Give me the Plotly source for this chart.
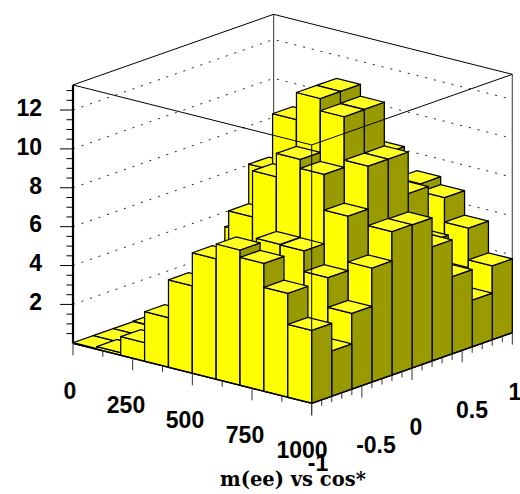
import numpy as np
import plotly.graph_objects as go

# ---- data: bin contents, one list per m(ee) bin, running over cos* bins from -1 to 1
mass_edges = [0, 100, 200, 300, 400, 500, 600, 700, 800, 900, 1000]
cos_edges = [-1, -0.8, -0.6, -0.4, -0.2, 0, 0.2, 0.4, 0.6, 0.8, 1]
m0 = [0.03, 0.03, 0.03, 0.05, 0.1, 0.1, 0.1, 0.05, 0.03, 0.03]
m1 = [0.14, 0.05, 0.1, 0.2, 0.3, 0.3, 0.3, 0.2, 0.1, 0.1]
m2 = [0.96, 0.7, 1.0, 1.5, 2.0, 2.0, 2.0, 1.8, 1.3, 1.0]
m3 = [2.55, 2.2, 3.0, 4.2, 5.47, 5.5, 4.5, 3.5, 3.0, 2.5]
m4 = [4.5, 3.8, 4.8, 6.96, 9.0, 8.5, 7.0, 5.5, 4.5, 4.0]
m5 = [6.2, 5.8, 5.2, 9.33, 11.9, 10.5, 9.5, 8.0, 6.0, 5.5]
m6 = [6.96, 5.5, 6.52, 10.53, 13.3, 13.3, 11.0, 8.5, 6.5, 7.1]
m7 = [6.58, 4.5, 6.5, 10.07, 12.67, 12.69, 10.04, 7.0, 4.7, 6.69]
m8 = [5.35, 2.9, 5.43, 8.23, 10.44, 10.44, 8.3, 5.44, 3.4, 5.43]
m9 = [3.75, 2.33, 3.9, 5.87, 7.38, 7.36, 5.87, 3.97, 2.4, 3.8]
heights = [m0, m1, m2, m3, m4, m5, m6, m7, m8, m9]

z_ticks = [2, 4, 6, 8, 10, 12]
z_labels = ["2", "4", "6", "8", "10", "12"]
mass_labels = ["0", "250", "500", "750", "1000"]
cos_labels = ["-1", "-0.5", "0", "0.5", "1"]
title = "m(ee) vs cos*"

# ---- oblique view of the box
ORIGIN = np.array([73.0, 343.3])
X_DIR = np.array([238.7, 60.0]) / 1000.0
Y_DIR = np.array([200.6, -70.6]) / 2.0
Z_UNIT = 19.44
Z_MAX = 13.29


def P(m, c, z=0.0):
    p = ORIGIN + X_DIR * m + Y_DIR * (c + 1) + np.array([0, -Z_UNIT]) * z
    return float(p[0]), float(p[1])


fig = go.Figure()


def line(pts, color="black", width=1.0, dash=None):
    xs, ys = zip(*pts)
    fig.add_trace(go.Scatter(x=xs, y=ys, mode="lines", hoverinfo="skip",
                             line=dict(color=color, width=width, dash=dash)))


def face(pts, color):
    xs, ys = zip(*(pts + [pts[0]]))
    fig.add_trace(go.Scatter(x=xs, y=ys, mode="lines", fill="toself", fillcolor=color,
                             hoverinfo="skip", line=dict(color="black", width=1.25)))


# back walls
GRID_DASH = "2px,7px"
for z in z_ticks:
    line([P(0, -1, z), P(0, 1, z), P(1000, 1, z)], "#222222", 1.0, GRID_DASH)
line([P(0, -1), P(0, 1), P(1000, 1)], "black", 1.0)
line([P(0, 1), P(0, 1, Z_MAX)], "#555555", 1.2)
line([P(1000, 1), P(1000, 1, Z_MAX)], "#555555", 1.2)
line([P(0, -1, Z_MAX), P(0, 1, Z_MAX), P(1000, 1, Z_MAX)], "black", 1.0)

# bars, back to front
YELLOW = "#ffff00"
TOP = "#ffff22"
OLIVE = "#999900"
for j in range(9, -1, -1):
    for i in range(10):
        h = heights[i][j]
        m_a, m_b = mass_edges[i], mass_edges[i + 1]
        c_a, c_b = cos_edges[j], cos_edges[j + 1]
        face([P(m_a, c_a), P(m_b, c_a), P(m_b, c_a, h), P(m_a, c_a, h)], YELLOW)
        face([P(m_b, c_a), P(m_b, c_b), P(m_b, c_b, h), P(m_b, c_a, h)], OLIVE)
        face([P(m_a, c_a, h), P(m_b, c_a, h), P(m_b, c_b, h), P(m_a, c_b, h)], TOP)

# front edges of the box
line([P(0, -1, Z_MAX), P(1000, -1, Z_MAX), P(1000, 1, Z_MAX)], "black", 1.0)
line([P(1000, -1, Z_MAX), P(1000, -1)], "black", 1.0)

# axes
line([P(0, -1), P(0, -1, Z_MAX)], "black", 2.2)
line([P(0, -1), P(1000, -1)], "black", 1.4)
line([P(1000, -1), P(1000, 1)], "black", 1.4)

for k in range(1, 27):
    z = k * 0.5
    x, y = P(0, -1, z)
    major = k % 4 == 0
    line([(x, y), (x - (13 if major else 6.5), y)], "black", 1.0)
for k in range(0, 9):
    x, y = P(k * 125, -1)
    line([(x, y), (x, y + (12 if k % 2 == 0 else 6))], "#333333", 1.0)
for k in range(0, 21):
    x, y = P(1000, -1 + k * 0.1)
    line([(x, y), (x, y + (12 if k % 5 == 0 else 6))], "#333333", 1.0)

# labels
LABEL_FONT = dict(family="Liberation Sans", size=23, color="black", weight="bold")
def labels(xs, ys, texts, pos="middle center"):
    fig.add_trace(go.Scatter(x=xs, y=ys, text=texts, mode="text", textposition=pos,
                             textfont=LABEL_FONT, hoverinfo="skip", cliponaxis=False))

zx = [42] * len(z_ticks)
zy = [P(0, -1, z)[1] for z in z_ticks]
labels(zx, zy, z_labels, "middle left")
labels([70, 126, 185, 245, 302], [393, 407, 422, 437, 452], mass_labels)
labels([318, 376, 416, 472, 515], [465, 447, 429, 412, 394], cos_labels)
fig.add_trace(go.Scatter(x=[293], y=[480.7], text=[title], mode="text", hoverinfo="skip",
                         textposition="middle center",
                         textfont=dict(family="DejaVu Serif", size=19.5, color="black", weight="bold")))

fig.update_layout(
    width=520, height=494, margin=dict(l=0, r=0, t=0, b=0), showlegend=False,
    paper_bgcolor="white", plot_bgcolor="white",
    xaxis=dict(range=[0, 520], visible=False, fixedrange=True),
    yaxis=dict(range=[494, 0], visible=False, fixedrange=True),
)
fig.write_html("out.html", include_plotlyjs=True, config=dict(displayModeBar=False),
               post_script="document.body.style.margin='0';")
